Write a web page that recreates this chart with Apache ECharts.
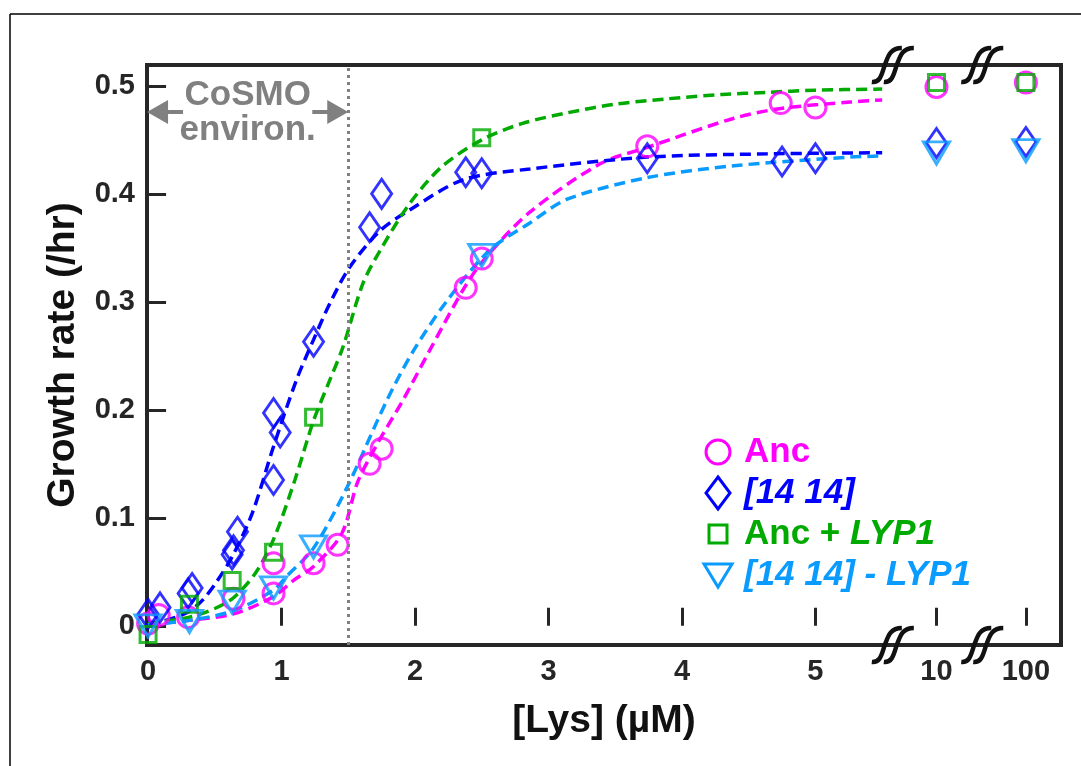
<!DOCTYPE html>
<html>
<head>
<meta charset="utf-8">
<script src="https://cdn.jsdelivr.net/npm/echarts@6.0.0/dist/echarts.min.js"></script>
<style>
html, body { margin: 0; padding: 0; background: #fff; }
#chart { width: 1081px; height: 766px; }
</style>
</head>
<body>
<div id="chart"></div>
<script>
// measured growth rates (/hr) against [Lys] (uM)
var ancX = [0, 0.08, 0.30, 0.64, 0.94, 0.94, 1.24, 1.42, 1.66, 1.75, 2.38, 2.50, 3.74, 4.74, 5.0, 10, 100];
var ancY = [0.002, 0.010, 0.008, 0.025, 0.030, 0.058, 0.058, 0.075, 0.150, 0.164, 0.313, 0.340, 0.444, 0.484, 0.480, 0.499, 0.503];

var evoX = [0, 0.09, 0.30, 0.33, 0.63, 0.64, 0.67, 0.94, 0.94, 0.99, 1.24, 1.66, 1.75, 2.38, 2.50, 3.74, 4.75, 5.0, 10, 100];
var evoY = [0.011, 0.017, 0.030, 0.035, 0.066, 0.070, 0.087, 0.135, 0.197, 0.179, 0.263, 0.369, 0.400, 0.420, 0.419, 0.433, 0.430, 0.433, 0.447, 0.448];

var ancLypX = [0, 0.31, 0.63, 0.94, 1.24, 2.50, 10, 100];
var ancLypY = [-0.008, 0.020, 0.042, 0.068, 0.193, 0.452, 0.503, 0.503];

var evoLypX = [0, 0.31, 0.63, 0.94, 1.24, 2.50, 10, 100];
var evoLypY = [0.0, 0.004, 0.022, 0.035, 0.073, 0.343, 0.438, 0.440];

// fitted curves
var ancFitX = [0, 0.31, 0.64, 0.94, 1.09, 1.24, 1.45, 1.57, 1.72, 1.91, 2.11, 2.36, 2.51, 2.86, 3.39, 3.74, 4.39, 4.74, 5.26, 5.5];
var ancFitY = [0.001, 0.005, 0.011, 0.027, 0.042, 0.055, 0.085, 0.133, 0.169, 0.209, 0.255, 0.311, 0.338, 0.383, 0.428, 0.443, 0.470, 0.479, 0.485, 0.487];

var evoFitX = [0, 0.1, 0.29, 0.41, 0.52, 0.63, 0.78, 0.94, 1.11, 1.24, 1.36, 1.51, 1.74, 1.96, 2.36, 2.86, 3.74, 4.64, 5.5];
var evoFitY = [0.003, 0.004, 0.012, 0.024, 0.042, 0.064, 0.104, 0.166, 0.227, 0.265, 0.298, 0.332, 0.366, 0.385, 0.413, 0.423, 0.434, 0.437, 0.438];

var ancLypFitX = [0, 0.31, 0.5, 0.64, 0.8, 0.94, 1.1, 1.24, 1.36, 1.46, 1.61, 1.75, 1.96, 2.2, 2.5, 2.8, 3.14, 3.5, 3.89, 4.3, 4.64, 5.0, 5.5];
var ancLypFitY = [0.002, 0.008, 0.016, 0.026, 0.048, 0.08, 0.135, 0.19, 0.227, 0.258, 0.317, 0.35, 0.391, 0.425, 0.45, 0.465, 0.475, 0.483, 0.488, 0.492, 0.494, 0.496, 0.497];

var evoLypFitX = [0, 0.31, 0.64, 0.94, 1.04, 1.24, 1.49, 1.79, 1.99, 2.24, 2.56, 2.86, 3.14, 3.74, 4.39, 5.26, 5.5];
var evoLypFitY = [0.001, 0.005, 0.014, 0.033, 0.046, 0.072, 0.128, 0.209, 0.255, 0.301, 0.348, 0.373, 0.395, 0.415, 0.426, 0.434, 0.435];

var xTickLabels = [0, 1, 2, 3, 4, 5, 10, 100];
var yTickValues = [0, 0.1, 0.2, 0.3, 0.4, 0.5];
var cosmoLimit = 1.5;

// linear up to 5.5, then broken axis: 10 and 100 squeezed in at the right
function xPos(c) {
  return c <= 5.5 ? c : 5.907 + 0.67 * Math.log10(c / 10);
}
function pairs(xs, ys) {
  return xs.map(function (x, i) { return [xPos(x), ys[i]]; });
}

var font = 'Liberation Sans, Arial, Helvetica, sans-serif';
var dark = '#262626';
var cMag = '#ff00ff', cBlue = '#0000ff', cGreen = '#00aa00', cSky = '#0a9bff';

function fit(xs, ys, color) {
  return {
    type: 'line',
    data: pairs(xs, ys),
    showSymbol: false,
    smooth: 0.3,
    silent: true,
    z: 2,
    lineStyle: { color: color, width: 3.5, type: [11, 6] }
  };
}
function dots(name, xs, ys, color, symbol, size, rotate) {
  return {
    type: 'scatter',
    name: name,
    data: pairs(xs, ys),
    symbol: symbol,
    symbolSize: size,
    symbolRotate: rotate || 0,
    z: 3,
    itemStyle: { color: 'rgba(0,0,0,0)', borderColor: color, borderWidth: 3 }
  };
}

var fitAnc = fit(ancFitX, ancFitY, cMag);
fitAnc.markLine = {
  silent: true,
  symbol: ['none', 'none'],
  label: { show: false },
  lineStyle: { color: '#808080', width: 3, type: [3, 4] },
  data: [{ xAxis: cosmoLimit }]
};

var xTicks = xTickLabels.map(xPos);

var option = {
  animation: false,
  grid: {
    left: 147, right: 20, top: 65, bottom: 121,
    show: true, borderColor: dark, borderWidth: 4
  },
  xAxis: {
    type: 'value',
    min: -0.008,
    max: 6.84,
    name: '[Lys] (µM)',
    nameLocation: 'middle',
    nameGap: 57,
    nameTextStyle: { fontFamily: font, fontWeight: 'bold', fontSize: 39, color: '#111' },
    axisLine: { show: false },
    splitLine: { show: false },
    axisTick: {
      inside: true, length: 18, customValues: xTicks,
      lineStyle: { color: dark, width: 3 }
    },
    axisLabel: {
      customValues: xTicks,
      margin: 12,
      fontFamily: font, fontWeight: 'bold', fontSize: 29, color: dark,
      formatter: function (v) {
        for (var i = 0; i < xTicks.length; i++) {
          if (Math.abs(xTicks[i] - v) < 1e-6) return String(xTickLabels[i]);
        }
        return '';
      }
    }
  },
  yAxis: {
    type: 'value',
    min: -0.0178,
    max: 0.5193,
    name: 'Growth rate (/hr)',
    nameLocation: 'middle',
    nameGap: 64,
    nameTextStyle: { fontFamily: font, fontWeight: 'bold', fontSize: 39, color: '#111' },
    axisLine: { show: false },
    splitLine: { show: false },
    axisTick: {
      inside: true, length: 18, customValues: yTickValues,
      lineStyle: { color: dark, width: 3 }
    },
    axisLabel: {
      customValues: yTickValues,
      margin: 12,
      fontFamily: font, fontWeight: 'bold', fontSize: 29, color: dark,
      formatter: function (v) { return v === 0 ? '0' : v.toFixed(1); }
    }
  },
  series: [
    fitAnc,
    fit(evoFitX, evoFitY, cBlue),
    fit(ancLypFitX, ancLypFitY, cGreen),
    fit(evoLypFitX, evoLypFitY, cSky),
    dots('Anc', ancX, ancY, cMag, 'circle', 21),
    dots('[14 14]', evoX, evoY, cBlue, 'diamond', [20, 29]),
    dots('Anc + LYP1', ancLypX, ancLypY, cGreen, 'rect', 16),
    dots('[14 14] - LYP1', evoLypX, evoLypY, cSky, 'triangle', [26, 22], 180)
  ]
};

var chart = echarts.init(document.getElementById('chart'));
chart.setOption(option);

function px(x, y) { return chart.convertToPixel({ gridIndex: 0 }, [x, y]); }

// break marks on top and bottom edges: two integral-like strokes
var breakAt = [5.58, 6.25];
function breakMark(p) {
  var kids = [];
  [-6, 6].forEach(function (dx) {
    var stroke = { fill: 'none', stroke: '#111', lineWidth: 4.5 };
    kids.push(
      { type: 'bezierCurve', x: dx, shape: { x1: -15, y1: 17, cpx1: -6, cpy1: 18, cpx2: -5, cpy2: 8, x2: -2, y2: 0 }, style: stroke },
      { type: 'bezierCurve', x: dx, shape: { x1: -2, y1: 0, cpx1: 1, cpy1: -8, cpx2: 3, cpy2: -17, x2: 15, y2: -17 }, style: stroke }
    );
  });
  return { type: 'group', x: p[0], y: p[1], z: 20, children: kids };
}
var graphics = [];
breakAt.forEach(function (b) {
  graphics.push(breakMark(px(b, -0.0178)));
  graphics.push(breakMark(px(b, 0.5193)));
});

// CoSMO annotation
var gray = '#808080';
var left = px(0, 0)[0] - 1, right = px(cosmoLimit, 0)[0], ay = 112;
var mid = (left + right) / 2;
graphics.push(
  { type: 'text', x: mid, y: 95, style: { text: 'CoSMO', fill: gray, font: 'bold 35px ' + font, align: 'center', verticalAlign: 'middle' } },
  { type: 'text', x: mid, y: 130, style: { text: 'environ.', fill: gray, font: 'bold 35px ' + font, align: 'center', verticalAlign: 'middle' } },
  { type: 'polygon', shape: { points: [[left, ay], [left + 21, ay - 12], [left + 21, ay + 12]] }, style: { fill: gray } },
  { type: 'line', shape: { x1: left + 18, y1: ay, x2: left + 36, y2: ay }, style: { stroke: gray, lineWidth: 4 } },
  { type: 'polygon', shape: { points: [[right, ay], [right - 21, ay - 12], [right - 21, ay + 12]] }, style: { fill: gray } },
  { type: 'line', shape: { x1: right - 18, y1: ay, x2: right - 36, y2: ay }, style: { stroke: gray, lineWidth: 4 } }
);

// legend
var lx = 718, tx = 744, rows = [452, 493, 534, 575];
var legendFont = 'bold 35px ' + font;
var italic = { font: 'italic bold 35px ' + font };
graphics.push(
  { type: 'circle', shape: { cx: lx, cy: rows[0], r: 12 }, style: { fill: 'none', stroke: cMag, lineWidth: 3 } },
  { type: 'polygon', shape: { points: [[lx, rows[1] - 16], [lx + 12, rows[1]], [lx, rows[1] + 16], [lx - 12, rows[1]]] }, style: { fill: 'none', stroke: cBlue, lineWidth: 3 } },
  { type: 'rect', shape: { x: lx - 9, y: rows[2] - 9, width: 18, height: 18 }, style: { fill: 'none', stroke: cGreen, lineWidth: 3 } },
  { type: 'polygon', shape: { points: [[lx - 14, rows[3] - 11], [lx + 14, rows[3] - 11], [lx, rows[3] + 12]] }, style: { fill: 'none', stroke: cSky, lineWidth: 3 } },
  { type: 'text', x: tx, y: rows[0], style: { text: 'Anc', fill: cMag, font: legendFont, verticalAlign: 'middle' } },
  { type: 'text', x: tx, y: rows[1], style: { text: '{i|[14 14]}', fill: cBlue, font: legendFont, verticalAlign: 'middle', rich: { i: italic } } },
  { type: 'text', x: tx, y: rows[2], style: { text: '{n|Anc + }{i|LYP1}', fill: cGreen, font: legendFont, verticalAlign: 'middle', rich: { n: { font: legendFont }, i: italic } } },
  { type: 'text', x: tx, y: rows[3], style: { text: '{i|[14 14] - LYP1}', fill: cSky, font: legendFont, verticalAlign: 'middle', rich: { i: italic } } }
);

// thin outer frame (top and left edges visible)
graphics.push(
  { type: 'line', shape: { x1: 10, y1: 14, x2: 1081, y2: 14 }, style: { stroke: '#000', lineWidth: 1.5 } },
  { type: 'line', shape: { x1: 10, y1: 14, x2: 10, y2: 766 }, style: { stroke: '#000', lineWidth: 1.5 } }
);

chart.setOption({ graphic: graphics });

window.addEventListener('resize', function () { chart.resize(); });
</script>
</body>
</html>
